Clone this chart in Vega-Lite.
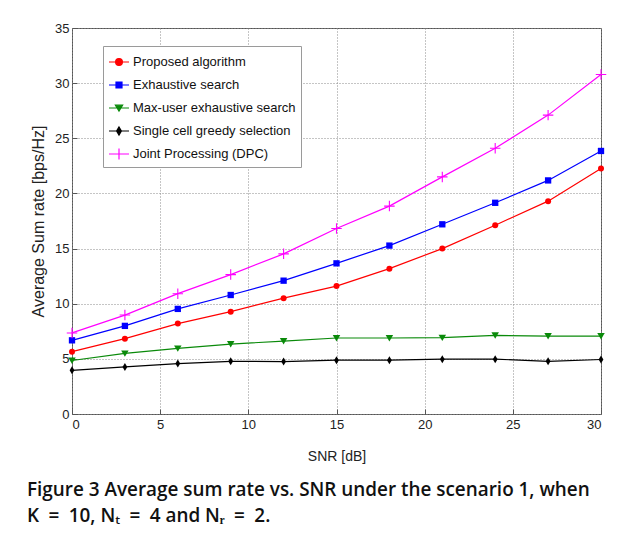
{
  "$schema": "https://vega.github.io/schema/vega-lite/v6.json",
  "autosize": {"type": "none"},
  "width": 529,
  "height": 386,
  "padding": {"left": 72, "top": 28, "right": 25, "bottom": 126},
  "background": "white",
  "config": {
    "view": {"stroke": "#555", "strokeWidth": 1},
    "axis": {
      "labelFont": "Liberation Sans",
      "labelFontSize": 13,
      "labelColor": "#222",
      "titleFont": "Liberation Sans",
      "titleFontWeight": "normal",
      "titleColor": "#222",
      "domain": false,
      "ticks": true,
      "tickSize": -5,
      "tickColor": "#555",
      "grid": true,
      "gridColor": "#8a8a8a",
      "gridDash": [1, 2],
      "gridWidth": 1
    }
  },
  "title": {
    "text": ["Figure 3 Average sum rate vs. SNR under the scenario 1, when", "K\u2002=\u200210, N\u209c\u2002=\u20024 and N\u1d63\u2002=\u20022."],
    "orient": "bottom",
    "anchor": "start",
    "frame": "group",
    "dx": -45,
    "offset": 18,
    "font": "Open Sans",
    "fontSize": 18.9,
    "fontWeight": 600,
    "lineHeight": 26,
    "color": "#111"
  },
  "data": {
    "values": [
      {"snr": 0, "series": "Proposed algorithm", "rate": 5.65},
      {"snr": 3, "series": "Proposed algorithm", "rate": 6.83},
      {"snr": 6, "series": "Proposed algorithm", "rate": 8.2},
      {"snr": 9, "series": "Proposed algorithm", "rate": 9.28},
      {"snr": 12, "series": "Proposed algorithm", "rate": 10.5},
      {"snr": 15, "series": "Proposed algorithm", "rate": 11.6},
      {"snr": 18, "series": "Proposed algorithm", "rate": 13.18},
      {"snr": 21, "series": "Proposed algorithm", "rate": 15.0},
      {"snr": 24, "series": "Proposed algorithm", "rate": 17.12},
      {"snr": 27, "series": "Proposed algorithm", "rate": 19.3},
      {"snr": 30, "series": "Proposed algorithm", "rate": 22.27},
      {"snr": 0, "series": "Exhaustive search", "rate": 6.68},
      {"snr": 3, "series": "Exhaustive search", "rate": 7.99},
      {"snr": 6, "series": "Exhaustive search", "rate": 9.53},
      {"snr": 9, "series": "Exhaustive search", "rate": 10.79},
      {"snr": 12, "series": "Exhaustive search", "rate": 12.09},
      {"snr": 15, "series": "Exhaustive search", "rate": 13.66},
      {"snr": 18, "series": "Exhaustive search", "rate": 15.27},
      {"snr": 21, "series": "Exhaustive search", "rate": 17.2},
      {"snr": 24, "series": "Exhaustive search", "rate": 19.15},
      {"snr": 27, "series": "Exhaustive search", "rate": 21.18},
      {"snr": 30, "series": "Exhaustive search", "rate": 23.85},
      {"snr": 0, "series": "Max-user exhaustive search", "rate": 4.85},
      {"snr": 3, "series": "Max-user exhaustive search", "rate": 5.49},
      {"snr": 6, "series": "Max-user exhaustive search", "rate": 5.95},
      {"snr": 9, "series": "Max-user exhaustive search", "rate": 6.34},
      {"snr": 12, "series": "Max-user exhaustive search", "rate": 6.61},
      {"snr": 15, "series": "Max-user exhaustive search", "rate": 6.89},
      {"snr": 18, "series": "Max-user exhaustive search", "rate": 6.89},
      {"snr": 21, "series": "Max-user exhaustive search", "rate": 6.92},
      {"snr": 24, "series": "Max-user exhaustive search", "rate": 7.13},
      {"snr": 27, "series": "Max-user exhaustive search", "rate": 7.07},
      {"snr": 30, "series": "Max-user exhaustive search", "rate": 7.07},
      {"snr": 0, "series": "Single cell greedy selection", "rate": 3.96},
      {"snr": 3, "series": "Single cell greedy selection", "rate": 4.27},
      {"snr": 6, "series": "Single cell greedy selection", "rate": 4.57},
      {"snr": 9, "series": "Single cell greedy selection", "rate": 4.78},
      {"snr": 12, "series": "Single cell greedy selection", "rate": 4.75},
      {"snr": 15, "series": "Single cell greedy selection", "rate": 4.88},
      {"snr": 18, "series": "Single cell greedy selection", "rate": 4.88},
      {"snr": 21, "series": "Single cell greedy selection", "rate": 4.97},
      {"snr": 24, "series": "Single cell greedy selection", "rate": 4.97},
      {"snr": 27, "series": "Single cell greedy selection", "rate": 4.78},
      {"snr": 30, "series": "Single cell greedy selection", "rate": 4.94},
      {"snr": 0, "series": "Joint Processing (DPC)", "rate": 7.35},
      {"snr": 3, "series": "Joint Processing (DPC)", "rate": 8.97},
      {"snr": 6, "series": "Joint Processing (DPC)", "rate": 10.91},
      {"snr": 9, "series": "Joint Processing (DPC)", "rate": 12.64},
      {"snr": 12, "series": "Joint Processing (DPC)", "rate": 14.52},
      {"snr": 15, "series": "Joint Processing (DPC)", "rate": 16.82},
      {"snr": 18, "series": "Joint Processing (DPC)", "rate": 18.85},
      {"snr": 21, "series": "Joint Processing (DPC)", "rate": 21.5},
      {"snr": 24, "series": "Joint Processing (DPC)", "rate": 24.1},
      {"snr": 27, "series": "Joint Processing (DPC)", "rate": 27.1},
      {"snr": 30, "series": "Joint Processing (DPC)", "rate": 30.78}
    ]
  },
  "encoding": {
    "x": {
      "field": "snr", "type": "quantitative",
      "scale": {"domain": [0, 30], "nice": false},
      "axis": {"title": "SNR [dB]", "values": [0, 5, 10, 15, 20, 25, 30], "titleFontSize": 14, "titlePadding": 18, "labelPadding": 9}
    },
    "y": {
      "field": "rate", "type": "quantitative",
      "scale": {"domain": [0, 35], "nice": false},
      "axis": {"title": "Average Sum rate [bps/Hz]", "values": [0, 5, 10, 15, 20, 25, 30, 35], "titleFontSize": 16, "titlePadding": 8, "labelPadding": 8}
    },
    "color": {
      "field": "series", "type": "nominal",
      "scale": {
        "domain": ["Proposed algorithm", "Exhaustive search", "Max-user exhaustive search", "Single cell greedy selection", "Joint Processing (DPC)"],
        "range": ["#ff0000", "#0000ff", "#0a8a0a", "#000000", "#ff00ff"]
      },
      "legend": {
        "title": null,
        "orient": "none",
        "legendX": 31,
        "legendY": 18,
        "padding": 5,
        "fillColor": "white",
        "strokeColor": "#9a9a9a",
        "labelFont": "Liberation Sans",
        "labelFontSize": 13,
        "labelColor": "#111",
        "labelOffset": 3,
        "symbolSize": 400,
        "symbolStrokeWidth": 1.2,
        "rowPadding": 5,
        "labelLimit": 300,
        "encode": {
          "symbols": {
            "update": {
              "shape": {"signal": "datum.value === 'Proposed algorithm' ? 'M-1,0H1M-0.34,0A0.34,0.34,0,1,0,0.34,0A0.34,0.34,0,1,0,-0.34,0Z' : datum.value === 'Exhaustive search' ? 'M-1,0H1M-0.3,-0.3H0.3V0.3H-0.3Z' : datum.value === 'Max-user exhaustive search' ? 'M-1,0H1M-0.36,-0.28H0.36L0,0.3Z' : datum.value === 'Single cell greedy selection' ? 'M-1,0H1M0,-0.4L0.24,0L0,0.4L-0.24,0Z' : 'M-1,0H1M0,-0.55V0.55'"},
              "size": {"value": 400},
              "fill": {"scale": "color", "field": "value"},
              "stroke": {"scale": "color", "field": "value"},
              "strokeWidth": {"value": 1.2},
              "opacity": {"value": 1},
              "fillOpacity": {"value": 1},
              "strokeOpacity": {"value": 1}
            }
          }
        }
      }
    }
  },
  "layer": [
    {
      "mark": {"type": "line", "strokeWidth": 1.2}
    },
    {
      "transform": [{"filter": {"field": "series", "equal": "Proposed algorithm"}}],
      "mark": {"type": "point", "filled": true, "shape": "circle", "size": 36, "opacity": 1}
    },
    {
      "transform": [{"filter": {"field": "series", "equal": "Exhaustive search"}}],
      "mark": {"type": "point", "filled": true, "shape": "square", "size": 40, "opacity": 1}
    },
    {
      "transform": [{"filter": {"field": "series", "equal": "Max-user exhaustive search"}}],
      "mark": {"type": "point", "filled": true, "shape": "M-1,-0.8H1L0,0.9Z", "size": 56, "opacity": 1}
    },
    {
      "transform": [{"filter": {"field": "series", "equal": "Single cell greedy selection"}}],
      "mark": {"type": "point", "filled": true, "shape": "M0,-1L0.6,0L0,1L-0.6,0Z", "size": 64, "opacity": 1}
    },
    {
      "transform": [{"filter": {"field": "series", "equal": "Joint Processing (DPC)"}}],
      "mark": {"type": "point", "filled": false, "shape": "M-1,0H1M0,-1V1", "size": 110, "strokeWidth": 1.1, "opacity": 1}
    }
  ]
}
